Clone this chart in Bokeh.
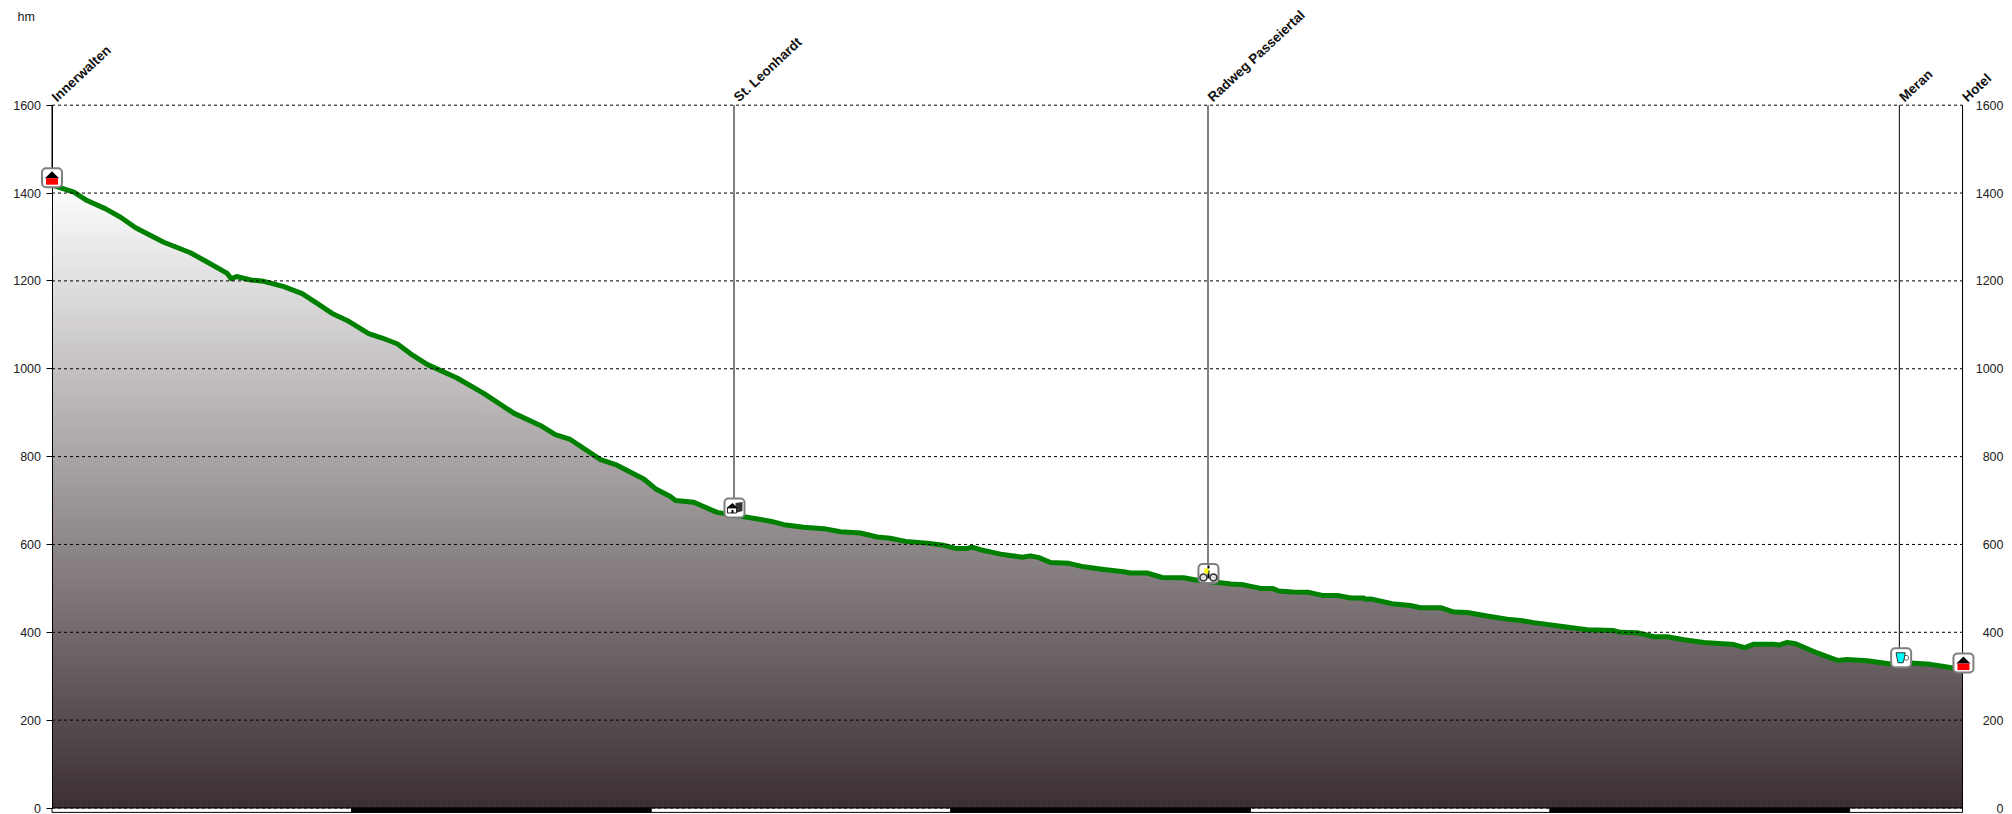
from bokeh.core.properties import value
from bokeh.embed import file_html
from bokeh.models import FixedTicker, LinearAxis, Range1d
from bokeh.plotting import figure
from bokeh.resources import INLINE
import numpy as np

# ---- data ----
km = [0.0, 0.06, 0.73, 1.17, 1.79, 2.29, 2.79, 3.73, 4.62, 5.18, 5.85, 5.98, 6.16, 6.63, 7.07, 7.74, 8.35,
      8.85, 9.35, 9.85, 10.57, 11.02, 11.52, 11.97, 12.52, 13.52, 14.41, 15.41, 16.3, 16.8, 17.3, 18.31,
      18.81, 19.75, 20.14, 20.64, 20.81, 21.42, 22.2, 23.2, 23.98, 24.43, 25.09, 25.76, 26.32, 26.98,
      27.54, 27.98, 28.49, 29.21, 29.77, 30.16, 30.55, 30.71, 30.99, 31.66, 32.38, 32.66, 32.94, 33.33,
      33.94, 34.44, 35.11, 35.77, 36.0, 36.55, 37.05, 37.77, 38.27, 39.0, 39.34, 39.78, 40.34, 40.73,
      40.95, 41.4, 41.95, 42.4, 42.9, 43.35, 43.79, 43.84, 44.01, 44.73, 45.34, 45.68, 46.35, 46.79,
      47.24, 47.9, 48.57, 49.02, 49.46, 50.35, 51.24, 52.13, 52.35, 52.91, 53.47, 53.91, 54.47, 55.14,
      56.14, 56.5, 56.81, 57.47, 57.64, 57.92, 58.2, 58.92, 59.59, 59.92, 60.59, 61.37, 62.04, 62.7,
      63.15, 63.77]
elev = [1420, 1417, 1402, 1383, 1364, 1345, 1321, 1288, 1264, 1243, 1217, 1205, 1210, 1202, 1199, 1187, 1171,
        1149, 1126, 1110, 1080, 1070, 1057, 1034, 1010, 979, 944, 899, 871, 850, 839, 793,
        782, 749, 727, 709, 700, 696, 673, 662, 653, 645, 639, 636, 629, 626,
        617, 614, 607, 603, 598, 591, 591, 594, 588, 578, 571, 574, 570, 559,
        557, 549, 543, 538, 535, 535, 525, 524, 518, 513, 510, 508, 500, 500,
        494, 492, 491, 484, 484, 478, 478, 475, 476, 465, 461, 456, 456, 446,
        445, 437, 430, 427, 422, 414, 406, 404, 400, 399, 390, 390, 383, 377,
        372, 365, 373, 373, 371, 377, 374, 353, 336, 338, 335, 328, 330, 327,
        322, 315]
y_ticks = [0, 200, 400, 600, 800, 1000, 1200, 1400, 1600]
y_tick_labels = ["0", "200", "400", "600", "800", "1000", "1200", "1400", "1600"]
wp_names = ["Innerwalten", "St. Leonhardt", "Radweg Passeiertal", "Meran", "Hotel"]
wp_km = [0.0, 22.764, 38.585, 61.66, 63.77]
box_km = [0.0, 22.78, 38.6, 61.72, 63.8]
box_elev = [1435, 683, 534, 342, 330]
strip_edges = [0, 10, 20, 30, 40, 50, 60, 63.77]
strip_colors = ["white", "black", "white", "black", "white", "black", "white"]

# ---- scale (pixels per unit) ----
PX_KM = 29.96
PX_HM = 0.43925
X0, Y0 = 51.5, 807.5
ORIGIN = 0            # the figure is drawn from the corner of the page
W, H = 2012, 814
GREEN = "#008000"
TXT = "#222222"
FONT = value("Liberation Sans")

p = figure(width=W, height=H, output_backend="svg", toolbar_location=None,
           x_axis_type=None, y_axis_type=None, min_border=0, outline_line_color=None,
           x_range=Range1d((ORIGIN - X0) / PX_KM, (ORIGIN + W - X0) / PX_KM),
           y_range=Range1d((Y0 - ORIGIN - H) / PX_HM, (Y0 - ORIGIN) / PX_HM))
p.grid.visible = False

# gradient fill: painted from the lightest level down, each clipped to the profile
km_a, elev_a = np.array(km), np.array(elev, dtype=float)
top_c, bot_c = np.array([255, 255, 255]), np.array([59, 47, 51])
TOP = 1425.0
for lev in np.arange(TOP, 0, -4.0):
    t = lev / TOP
    c = bot_c + (top_c - bot_c) * t
    p.varea(km_a, np.zeros_like(km_a), np.minimum(elev_a, lev),
            color="#%02x%02x%02x" % tuple(int(round(v)) for v in c))

# bottom strip
strip_h = 10.0
p.quad(left=strip_edges[:-1], right=strip_edges[1:], bottom=-strip_h, top=0,
       fill_color=strip_colors, line_color="black", line_width=1)

# profile line
p.line(km, elev, line_color=GREEN, line_width=5, line_join="round")

# axes
tick = FixedTicker(ticks=y_ticks)
left = LinearAxis(ticker=tick, fixed_location=0, bounds=(0, 1600), major_tick_in=0, major_tick_out=6,
                  minor_tick_line_color=None, axis_line_color="black", major_tick_line_color="black",
                  major_label_standoff=5, major_label_text_font="Liberation Sans",
                  major_label_text_font_size="12.5px", major_label_text_color=TXT)
right = LinearAxis(ticker=tick, fixed_location=strip_edges[-1], bounds=(0, 1600), major_tick_in=0, major_tick_out=0,
                   minor_tick_line_color=None, axis_line_color="black", major_label_text_color=None)
p.add_layout(left, "left")
p.add_layout(right, "right")
p.text(x=[(2003 - X0) / PX_KM] * 9, y=y_ticks, text=y_tick_labels, text_align="right", text_baseline="middle",
       text_font=FONT, text_font_size="12.5px", text_color=TXT)

# grid lines over everything
p.segment(x0=[0] * 9, x1=[strip_edges[-1]] * 9, y0=y_ticks, y1=y_ticks, line_color="black",
          line_width=1, line_dash="3 3", level="overlay")

# waypoint stems, names
p.segment(x0=wp_km, x1=wp_km, y0=[1600] * 5, y1=box_elev, line_color="black", line_width=1)
p.text(x=wp_km, y=[1600] * 5, text=wp_names, angle=43, angle_units="deg", x_offset=2, y_offset=-6,
       text_align="left", text_baseline="middle", text_font=FONT, text_font_style="bold",
       text_font_size="13.5px", text_color="#111111")
p.text(x=[(17 - X0) / PX_KM], y=[(Y0 - 16) / PX_HM], text=["hm"], text_align="left", text_baseline="middle",
       text_font=FONT, text_font_size="12.5px", text_color=TXT)

# waypoint boxes
p.rect(x=box_km, y=box_elev, width=20, height=19, width_units="screen", height_units="screen",
       fill_color="white", line_color="#7f7f7f", line_width=2, border_radius=4, level="annotation")


def poly(i, pts, fill, line=None):
    xs = [box_km[i] + a / PX_KM for a, b in pts]
    ys = [box_elev[i] - b / PX_HM for a, b in pts]
    p.patch(xs, ys, fill_color=fill, line_color=line, line_width=1, level="annotation")


# houses at start and end
for i in (0, 4):
    poly(i, [(-7, 0.5), (7, 0.5), (0, -6.5)], "black")
    poly(i, [(-6, 0.5), (6, 0.5), (6, 7), (-6, 7)], "red")

# village
poly(1, [(1, -5), (8, -6), (8, 3), (1, 5)], "#333333")
poly(1, [(-8, 0), (-2, -5), (3, 0)], "black")
poly(1, [(-7, 0), (2, 0), (2, 5), (-7, 5)], "white", "#222222")
poly(1, [(-3, 2), (-1, 2), (-1, 5), (-3, 5)], "black")

# cycle path
bx = box_km[2]
by = box_elev[2]
p.scatter([bx - 5 / PX_KM, bx + 5 / PX_KM], [by - 4 / PX_HM] * 2, size=7, fill_color="#dddddd",
          line_color="#333333", line_width=1.5, level="annotation")
poly(2, [(-1, -3), (1, -3), (1, 5), (-1, 5)], "black")
poly(2, [(-4, -5), (0, -5), (0, 0), (-4, 0)], "yellow")
poly(2, [(-1, -8), (1, -8), (1, -5), (-1, -5)], "black")

# cup
p.scatter([box_km[3] + 5 / PX_KM], [box_elev[3]], size=5, fill_color="white", line_color="#666666",
          line_width=1, level="annotation")
poly(3, [(-5, -5), (4, -5), (3, 1), (2, 5), (-3, 5), (-4, 1)], "#00ffff", "#333333")

open("out.html", "w").write(file_html(p, INLINE))
